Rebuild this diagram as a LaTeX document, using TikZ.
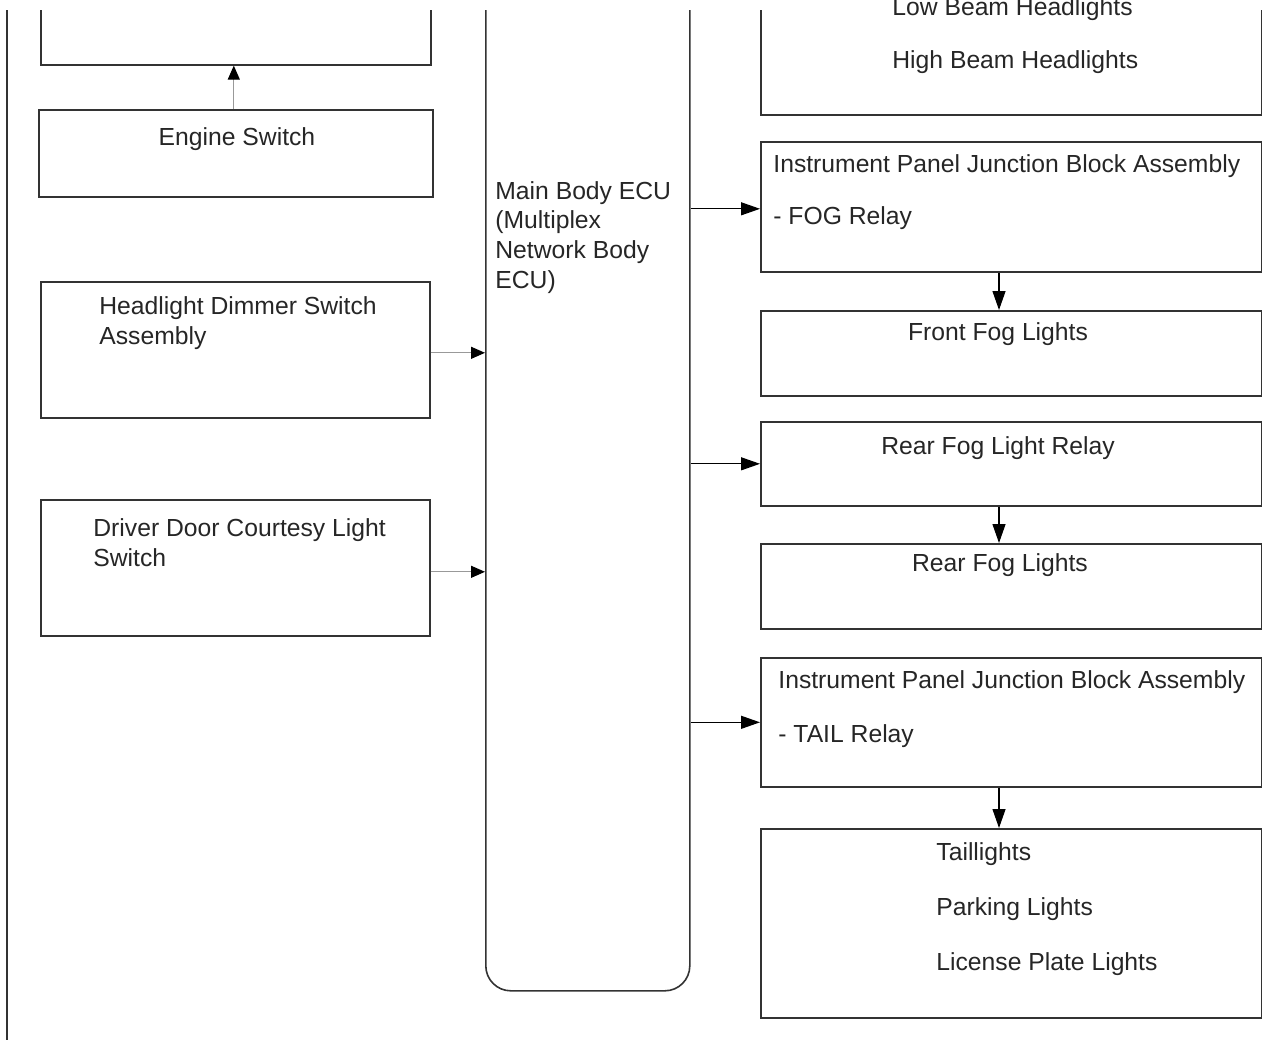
\documentclass[tikz,border=0pt]{standalone}
\usepackage{fontspec}
\setmainfont{Liberation Sans}
\usetikzlibrary{arrows.meta}

\tikzset{
  box/.style={draw=black!80, line width=0.8pt, inner sep=0, anchor=north west},
  txt/.style={inner sep=0, anchor=base west, align=left, text=black!85},
  ctxt/.style={inner sep=0, anchor=base, text=black!85},
  inarrow/.style={draw=black!40, line width=0.6pt, -{Triangle[length=7pt,width=6pt,color=black]}},
  outarrow/.style={draw=black, line width=0.6pt, -{Triangle[length=9.5pt,width=6.5pt]}},
}

\begin{document}
\begin{tikzpicture}[x=0.5pt,y=-0.5pt,font=\fontsize{12.35}{14.8}\selectfont]
\useasboundingbox (0,0) rectangle (1262,1046);

\draw[black!80, line width=0.8pt] (7,10) -- (7,1040);

% blocks, cut at the top of the page
\begin{scope}
\clip (0,10) rectangle (1262,1046);
\node[box, minimum width=195pt, minimum height=52pt] (combsw) at (40,-40) {};
\node[box, minimum width=102pt, minimum height=525pt, rounded corners=12.5pt] (ecu) at (485,-60) {};
\node[box, minimum width=250.5pt, minimum height=77pt] (beams) at (760,-40) {};
\end{scope}

% left column
\node[box, minimum width=197pt, minimum height=43.5pt] (engine) at (38,109) {};
\node[box, minimum width=194.5pt, minimum height=68pt] (dimmer) at (40,281) {};
\node[box, minimum width=194.5pt, minimum height=68pt] (door) at (40,499) {};

% right column
\node[box, minimum width=250.5pt, minimum height=65pt] (fogrelay) at (760,141) {};
\node[box, minimum width=250.5pt, minimum height=42.5pt] (frontfog) at (760,310) {};
\node[box, minimum width=250.5pt, minimum height=42pt] (rearrelay) at (760,421) {};
\node[box, minimum width=250.5pt, minimum height=42.5pt] (rearfog) at (760,543) {};
\node[box, minimum width=250.5pt, minimum height=64.5pt] (tailrelay) at (760,657) {};
\node[box, minimum width=250.5pt, minimum height=94.5pt] (taillamps) at (760,828) {};

% texts (multi-line: placed by the last baseline)
\node[ctxt] (tengine) at (237,145) {Engine Switch};
\node[txt] (tdimmer) at (99,344) {Headlight Dimmer Switch\\Assembly};
\node[txt] (tdoor) at (93,566) {Driver Door Courtesy Light\\Switch};
\node[txt] (tecu) at (495,288) {Main Body ECU\\(Multiplex\\Network Body\\ECU)};
\node[txt] (tbeams) at (892,68) {Low Beam Headlights\\[11.5pt]High Beam Headlights};
\node[txt] (tfogrelay) at (773,224) {Instrument Panel Junction Block Assembly\\[11pt]- FOG Relay};
\node[ctxt] (tfrontfog) at (998,340) {Front Fog Lights};
\node[ctxt] (trearrelay) at (998,454) {Rear Fog Light Relay};
\node[ctxt] (trearfog) at (1000,571) {Rear Fog Lights};
\node[txt] (ttailrelay) at (778,742) {Instrument Panel Junction Block Assembly\\[12pt]- TAIL Relay};
\node[txt] (ttaillamps) at (936,970) {Taillights\\[12.5pt]Parking Lights\\[12.5pt]License Plate Lights};

% connections
\coordinate (col) at (999,0);
\draw[inarrow] ([xshift=-1pt]engine.north) -- ([xshift=-1pt]engine.north |- combsw.south);
\draw[inarrow] ([yshift=-1.5pt]dimmer.east) -- ([yshift=-1.5pt]dimmer.east -| ecu.west);
\draw[inarrow] ([yshift=-2pt]door.east) -- ([yshift=-2pt]door.east -| ecu.west);
\draw[outarrow] ([yshift=-1pt]fogrelay.west -| ecu.east) -- ([yshift=-1pt]fogrelay.west);
\draw[outarrow] (rearrelay.west -| ecu.east) -- (rearrelay.west);
\draw[outarrow] (tailrelay.west -| ecu.east) -- (tailrelay.west);
\draw[outarrow] (fogrelay.south -| col) -- (frontfog.north -| col);
\draw[outarrow] (rearrelay.south -| col) -- (rearfog.north -| col);
\draw[outarrow] (tailrelay.south -| col) -- (taillamps.north -| col);
\end{tikzpicture}
\end{document}
